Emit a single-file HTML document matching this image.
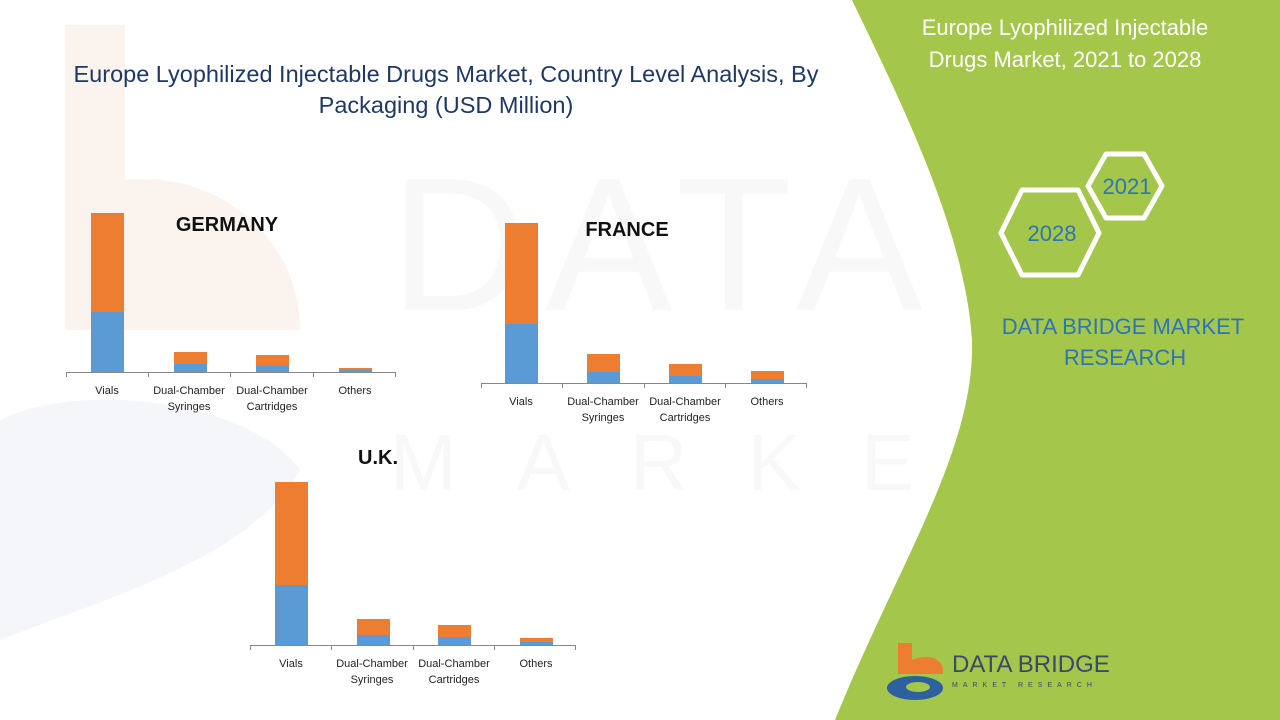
<!DOCTYPE html>
<html><head><meta charset="utf-8"><style>
body{margin:0;width:1280px;height:720px;overflow:hidden;background:#fff;font-family:"Liberation Sans",sans-serif}
</style></head><body>
<svg width="1280" height="720" xmlns="http://www.w3.org/2000/svg" style="position:absolute;left:0;top:0">
<rect width="1280" height="720" fill="#fff"/>
<g opacity="0.035" fill="#555">
<text x="390" y="310" font-size="190" font-family="Liberation Sans" letter-spacing="18">DATA BRIDGE</text>
<text x="390" y="490" font-size="80" font-family="Liberation Sans" letter-spacing="60">MARKET RESEARCH</text>
</g>
<path d="M65,25 L125,25 L125,180 C220,170 300,240 300,330 L65,330Z" fill="#f6e0d2" opacity="0.4"/>
<path d="M0,420 C80,380 250,400 300,470 C250,560 100,600 0,640Z" fill="#e3e8f2" opacity="0.4"/>
<path d="M852,0 L1280,0 L1280,720 L835,720 C900,560 975,450 972,340 C965,230 900,100 852,0Z" fill="#a4c64a"/>
<g font-family="Liberation Sans" fill="#fff" font-size="22" text-anchor="middle">
<text x="1065" y="35">Europe Lyophilized Injectable</text>
<text x="1065" y="67">Drugs Market, 2021 to 2028</text>
</g>
<polygon points="1088,186 1106,154 1144,154 1162,186 1144,218 1106,218" fill="none" stroke="#fff" stroke-width="5" stroke-linejoin="round"/>
<polygon points="1001,233 1022,190 1078,190 1099,233 1078,275 1022,275" fill="none" stroke="#fff" stroke-width="5" stroke-linejoin="round"/>
<g font-family="Liberation Sans" fill="#2e75b6" text-anchor="middle">
<text x="1127" y="194" font-size="22">2021</text>
<text x="1052" y="241" font-size="22">2028</text>
<text x="1123" y="334" font-size="22">DATA BRIDGE MARKET</text>
<text x="1125" y="365" font-size="22">RESEARCH</text>
</g>
<path d="M898,643 L912,643 L912,660 C930,652 945,660 943,674 L898,674Z" fill="#ed7d31"/>
<ellipse cx="915" cy="688" rx="28" ry="12" fill="#2e5f9e"/>
<ellipse cx="918" cy="687" rx="12" ry="5" fill="#a4c64a"/>
<text x="952" y="672" font-size="24" fill="#3a4a6a" font-family="Liberation Sans">DATA BRIDGE</text>
<text x="952" y="687" font-size="7" fill="#3a4a6a" letter-spacing="5" font-family="Liberation Sans">MARKET RESEARCH</text>
<g font-family="Liberation Sans" fill="#1f3864" font-size="23.5" text-anchor="middle">
<text x="446" y="82">Europe Lyophilized Injectable Drugs Market, Country Level Analysis, By</text>
<text x="446" y="113">Packaging (USD Million)</text>
</g>
<g font-family="Liberation Sans" font-weight="bold" font-size="20" fill="#111" text-anchor="middle">
<text x="227" y="231">GERMANY</text>
<text x="627" y="236">FRANCE</text>
<text x="378" y="464">U.K.</text>
</g>
<g>
<rect x="91" y="213" width="33" height="99" fill="#ed7d31"/><rect x="91" y="312" width="33" height="60" fill="#5b9bd5"/>
<rect x="174" y="352" width="33" height="12" fill="#ed7d31"/><rect x="174" y="364" width="33" height="8" fill="#5b9bd5"/>
<rect x="256" y="355" width="33" height="11" fill="#ed7d31"/><rect x="256" y="366" width="33" height="6" fill="#5b9bd5"/>
<rect x="339" y="368" width="33" height="2" fill="#ed7d31"/><rect x="339" y="370" width="33" height="2" fill="#5b9bd5"/>
<path d="M66,372.5H396M66.5,372V377M148.5,372V377M230.5,372V377M313.5,372V377M395.5,372V377" stroke="#888" stroke-width="1"/>
</g>
<g font-family="Liberation Sans" font-size="11" fill="#222" text-anchor="middle">
<text x="107" y="394">Vials</text><text x="189" y="394">Dual-Chamber</text><text x="189" y="410">Syringes</text>
<text x="272" y="394">Dual-Chamber</text><text x="272" y="410">Cartridges</text><text x="355" y="394">Others</text>
</g>
<g>
<rect x="505" y="223" width="33" height="101" fill="#ed7d31"/><rect x="505" y="324" width="33" height="59" fill="#5b9bd5"/>
<rect x="587" y="354" width="33" height="18" fill="#ed7d31"/><rect x="587" y="372" width="33" height="11" fill="#5b9bd5"/>
<rect x="669" y="364" width="33" height="12" fill="#ed7d31"/><rect x="669" y="376" width="33" height="7" fill="#5b9bd5"/>
<rect x="751" y="371" width="33" height="8" fill="#ed7d31"/><rect x="751" y="379" width="33" height="4" fill="#5b9bd5"/>
<path d="M481,383.5H807M481.5,383V388M562.5,383V388M644.5,383V388M725.5,383V388M806.5,383V388" stroke="#888" stroke-width="1"/>
</g>
<g font-family="Liberation Sans" font-size="11" fill="#222" text-anchor="middle">
<text x="521" y="405">Vials</text><text x="603" y="405">Dual-Chamber</text><text x="603" y="421">Syringes</text>
<text x="685" y="405">Dual-Chamber</text><text x="685" y="421">Cartridges</text><text x="767" y="405">Others</text>
</g>
<g>
<rect x="275" y="482" width="33" height="103" fill="#ed7d31"/><rect x="275" y="585" width="33" height="60" fill="#5b9bd5"/>
<rect x="357" y="619" width="33" height="16" fill="#ed7d31"/><rect x="357" y="635" width="33" height="10" fill="#5b9bd5"/>
<rect x="438" y="625" width="33" height="12" fill="#ed7d31"/><rect x="438" y="637" width="33" height="8" fill="#5b9bd5"/>
<rect x="520" y="638" width="33" height="4" fill="#ed7d31"/><rect x="520" y="642" width="33" height="3" fill="#5b9bd5"/>
<path d="M250,645.5H576M250.5,645V650M331.5,645V650M413.5,645V650M494.5,645V650M575.5,645V650" stroke="#888" stroke-width="1"/>
</g>
<g font-family="Liberation Sans" font-size="11" fill="#222" text-anchor="middle">
<text x="291" y="667">Vials</text><text x="372" y="667">Dual-Chamber</text><text x="372" y="683">Syringes</text>
<text x="454" y="667">Dual-Chamber</text><text x="454" y="683">Cartridges</text><text x="536" y="667">Others</text>
</g>
</svg>
</body></html>
